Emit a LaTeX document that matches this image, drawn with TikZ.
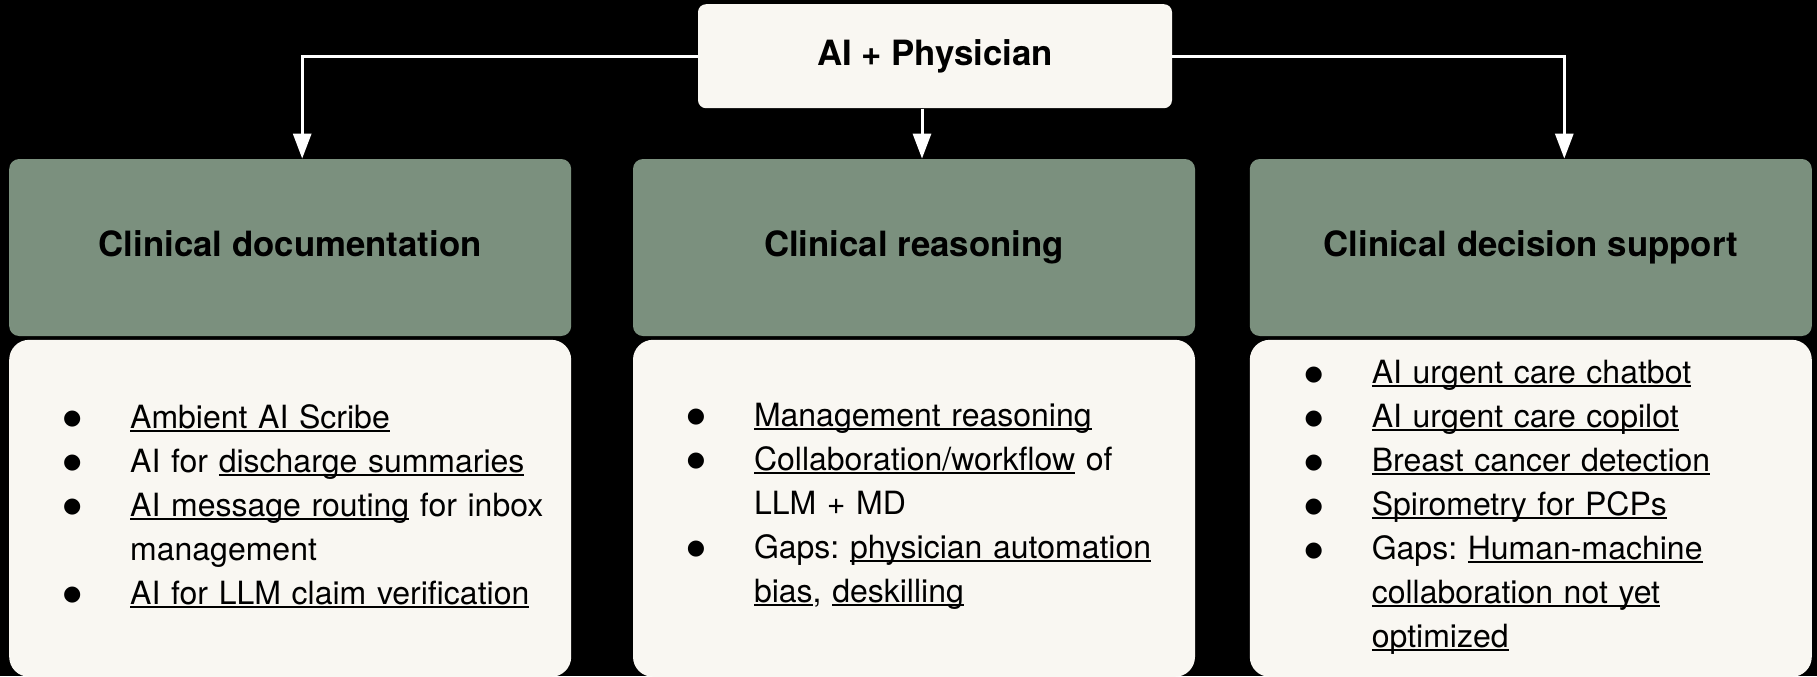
\documentclass[tikz,border=0pt]{standalone}
\usepackage{fontspec}
\setmainfont{TeX Gyre Heros}
\newfontfamily\symfont{DejaVu Sans}
\usepackage{tikz}
\usetikzlibrary{arrows.meta, positioning}
\definecolor{cream}{HTML}{F9F7F2}
\definecolor{sage}{HTML}{7B907E}
\frenchspacing
\newsavebox{\lnkbox}
\newcommand{\lnk}[1]{\leavevmode\sbox{\lnkbox}{#1}\rlap{\rule[-1.75pt]{\wd\lnkbox}{1pt}}\usebox{\lnkbox}}
\newcommand{\bul}{\leavevmode\llap{\makebox[0pt]{\symfont\fontsize{10.5}{12}\selectfont\raisebox{1.6pt}{●}}\hspace{29pt}}}
\tikzset{
    top_box/.style={rectangle, rounded corners=4pt, fill=cream, minimum width=237pt, minimum height=52pt, font=\bfseries\fontsize{17.4}{20}\selectfont},
    head_box/.style={rectangle, rounded corners=5pt, fill=sage, minimum width=281pt, minimum height=88.5pt, text height=12.6pt, text depth=3.7pt, font=\bfseries\fontsize{17.4}{20}\selectfont},
    body_box/.style={rectangle, rounded corners=10pt, fill=cream, minimum width=281pt, minimum height=168.5pt},
    items/.style={text width=215pt, align=left, inner sep=0pt, font=\fontsize{16}{22}\selectfont},
    arrow/.style={-{Triangle[length=12.5pt, width=9pt]}, draw=white, line width=1.5pt}
}

\begin{document}
\begin{tikzpicture}[x=0.5pt, y=0.5pt]
			\fill [black] (0,0) rectangle (1817,-676);
			\useasboundingbox (0,0) rectangle (1817,-676);

			\node (reason_head) [head_box] at (914,-247.5) {Clinical reasoning};
			\node (doc_head) [head_box, left=30.5pt of reason_head] {Clinical documentation};
			\node (cds_head) [head_box, right=27pt of reason_head] {Clinical decision support};
			\node (top) [top_box, above=25pt of reason_head, xshift=10.5pt] {AI + Physician};

			\node (doc_body) [body_box, below=1.5pt of doc_head] {};
			\node (reason_body) [body_box, below=1.5pt of reason_head] {};
			\node (cds_body) [body_box, below=1.5pt of cds_head] {};

			\node (doc_items) [items, anchor=west] at ([xshift=60.5pt, yshift=1.2pt]doc_body.west) {\bul\lnk{Ambient AI Scribe}\\ \bul AI for \lnk{discharge summaries}\\ \bul\lnk{AI message routing} for inbox\\ management\\ \bul\lnk{AI for LLM claim verification}};
			\node (reason_items) [items, anchor=west] at ([xshift=60.5pt, yshift=1.2pt]reason_body.west) {\bul\lnk{Management reasoning}\\ \bul\lnk{Collaboration/workflow} of\\ LLM + MD\\ \bul Gaps: \lnk{physician automation}\\ \lnk{bias}, \lnk{deskilling}};
			\node (cds_items) [items, anchor=west] at ([xshift=61pt, yshift=0.6pt]cds_body.west) {\bul\lnk{AI urgent care chatbot}\\ \bul\lnk{AI urgent care copilot}\\ \bul\lnk{Breast cancer detection}\\ \bul\lnk{Spirometry for PCPs}\\ \bul Gaps: \lnk{Human-machine}\\ \lnk{collaboration not yet}\\ \lnk{optimized}};

			\draw [arrow] (top.west) -| ([xshift=6pt]doc_head.north);
			\draw [arrow] ([xshift=4pt]reason_head.north |- top.south) -- ([xshift=4pt]reason_head.north);
			\draw [arrow] (top.east) -| ([xshift=16.75pt]cds_head.north);
		\end{tikzpicture}
\end{document}
